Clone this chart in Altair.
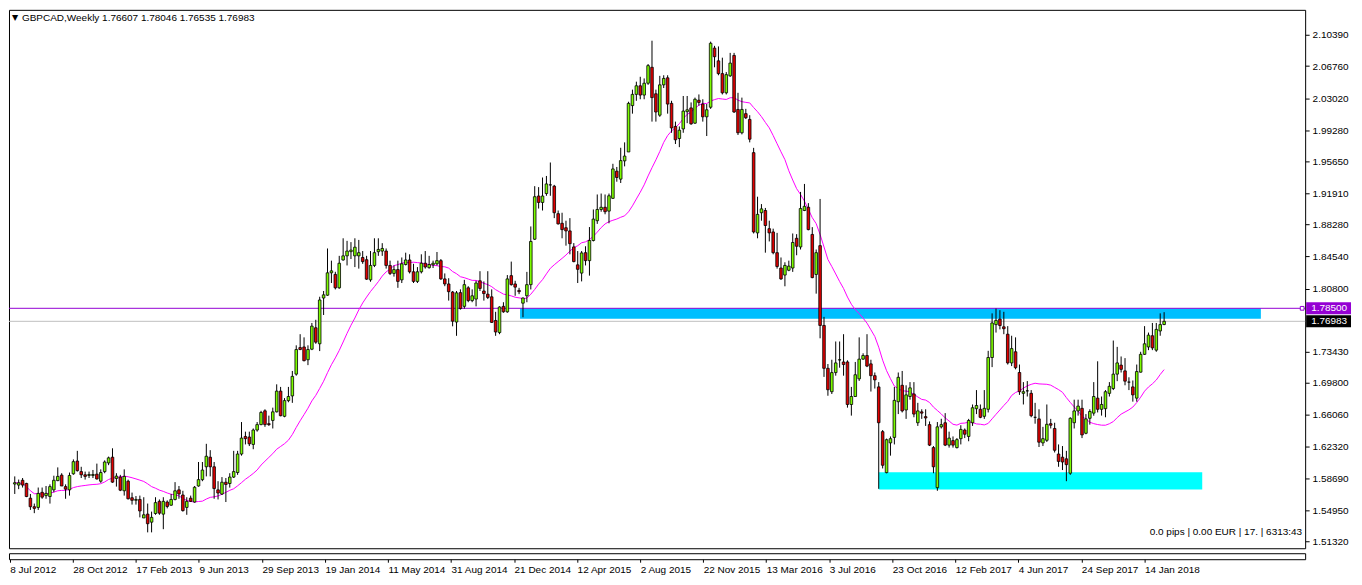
import altair as alt
import pandas as pd

# ---------------- data (GBPCAD weekly) ----------------
opens = [
    1.5800, 1.5788, 1.5844, 1.5807, 1.5635, 1.5535, 1.5527, 1.5703, 1.5665, 1.5654,
    1.5732, 1.5840, 1.5904, 1.5770, 1.5732, 1.5919, 1.6068, 1.5945, 1.5908, 1.5900,
    1.5900, 1.5915, 1.5833, 1.5945, 1.6046, 1.6113, 1.5865, 1.5881, 1.5721, 1.5833,
    1.5640, 1.5610, 1.5620, 1.5404, 1.5449, 1.5355, 1.5456, 1.5598, 1.5449, 1.5590,
    1.5553, 1.5620, 1.5732, 1.5672, 1.5527, 1.5635, 1.5590, 1.5777, 1.5851, 1.6001,
    1.6113, 1.6001, 1.5732, 1.5683, 1.5821, 1.5806, 1.5881, 1.5934, 1.6150, 1.6355,
    1.6348, 1.6262, 1.6430, 1.6493, 1.6654, 1.6504, 1.6542, 1.6642, 1.6884, 1.6590,
    1.6773, 1.6828, 1.7082, 1.7392, 1.7399, 1.7250, 1.7373, 1.7623, 1.7436, 1.7970,
    1.8003, 1.8264, 1.8246, 1.8089, 1.8414, 1.8462, 1.8511, 1.8462, 1.8462, 1.8443,
    1.8417, 1.8182, 1.8350, 1.8510, 1.8518, 1.8518, 1.8350, 1.8257, 1.8302, 1.8182,
    1.8361, 1.8414, 1.8276, 1.8164, 1.8276, 1.8376, 1.8324, 1.8358, 1.8369, 1.8406,
    1.8193, 1.8134, 1.8040, 1.7690, 1.8033, 1.7873, 1.8089, 1.7940, 1.7958, 1.8171,
    1.8052, 1.8015, 1.7984, 1.7708, 1.7567, 1.7873, 1.7809, 1.8231, 1.8134, 1.8059,
    1.7910, 1.7996, 1.8126, 1.8656, 1.9160, 1.9085, 1.9189, 1.9290, 1.9275, 1.8954,
    1.8842, 1.8790, 1.8753, 1.8566, 1.8357, 1.8261, 1.8499, 1.8406, 1.8641, 1.8872,
    1.9003, 1.9029, 1.8984, 1.9133, 1.9450, 1.9357, 1.9570, 1.9674, 2.0215, 2.0346,
    2.0446, 2.0338, 2.0476, 2.0662, 2.0353, 2.0103, 2.0457, 2.0539, 2.0241, 1.9972,
    1.9831, 1.9943, 2.0144, 2.0188, 2.0010, 2.0278, 2.0233, 2.0084, 2.0196, 2.0886,
    2.0737, 2.0588, 2.0364, 2.0562, 2.0800, 2.0170, 1.9898, 2.0121, 2.0054, 1.9666,
    1.8730, 1.8965, 1.8991, 1.8779, 1.8741, 1.8499, 1.8320, 1.8238, 1.8294, 1.8320,
    1.8667, 1.8566, 1.8991, 1.9029, 1.8712, 1.8245, 1.8581, 1.7650, 1.7150, 1.6877,
    1.7100, 1.7247, 1.7224, 1.7224, 1.6728, 1.6821, 1.7027, 1.7257, 1.7299, 1.7202,
    1.7064, 1.6933, 1.6411, 1.5933, 1.6280, 1.6344, 1.6760, 1.6952, 1.6664, 1.6821,
    1.6851, 1.6515, 1.6642, 1.6586, 1.6493, 1.6225, 1.5758, 1.6467, 1.6515, 1.6254,
    1.6307, 1.6225, 1.6329, 1.6430, 1.6355, 1.6515, 1.6679, 1.6672, 1.6590, 1.6672,
    1.7276, 1.7660, 1.7724, 1.7634, 1.7548, 1.7213, 1.7343, 1.7101, 1.6858, 1.6887,
    1.6858, 1.6578, 1.6560, 1.6280, 1.6310, 1.6504, 1.6448, 1.6150, 1.6113, 1.6094,
    1.5926, 1.6515, 1.6653, 1.6683, 1.6392, 1.6567, 1.6627, 1.6802, 1.6672, 1.6679,
    1.6858, 1.6914, 1.7082, 1.7187, 1.7120, 1.6989, 1.6933, 1.6802, 1.7105, 1.7313,
    1.7399, 1.7530, 1.7362, 1.7586, 1.76607,
]
highs = [
    1.5889, 1.5852, 1.5870, 1.5814, 1.5684, 1.5572, 1.5759, 1.5759, 1.5777, 1.5796,
    1.5897, 1.5994, 1.5926, 1.5796, 1.5934, 1.6087, 1.6187, 1.6001, 1.5945, 1.5945,
    1.5964, 1.6038, 1.5971, 1.6076, 1.6120, 1.6217, 1.5926, 1.5907, 1.5971, 1.5851,
    1.5700, 1.5660, 1.5665, 1.5646, 1.5572, 1.5478, 1.5646, 1.5620, 1.5646, 1.5609,
    1.5684, 1.5822, 1.5777, 1.5721, 1.5646, 1.5665, 1.5777, 1.6057, 1.6057, 1.6269,
    1.6195, 1.6057, 1.5833, 1.5881, 1.5870, 1.5926, 1.6187, 1.6187, 1.6523, 1.6411,
    1.6411, 1.6448, 1.6523, 1.6654, 1.6672, 1.6598, 1.6691, 1.6963, 1.6933, 1.6802,
    1.6933, 1.7119, 1.7418, 1.7548, 1.7511, 1.7418, 1.7679, 1.7716, 1.7985, 1.8052,
    1.8548, 1.8406, 1.8276, 1.8462, 1.8667, 1.8637, 1.8622, 1.8667, 1.8648, 1.8518,
    1.8462, 1.8518, 1.8667, 1.8667, 1.8610, 1.8548, 1.8406, 1.8350, 1.8406, 1.8443,
    1.8499, 1.8480, 1.8369, 1.8331, 1.8480, 1.8518, 1.8462, 1.8406, 1.8507, 1.8425,
    1.8257, 1.8201, 1.8052, 1.8052, 1.8071, 1.8182, 1.8108, 1.8071, 1.8171, 1.8283,
    1.8164, 1.8283, 1.8071, 1.7809, 1.7873, 1.7921, 1.8238, 1.8395, 1.8171, 1.8089,
    1.7977, 1.8275, 1.8805, 1.9275, 1.9264, 1.9376, 1.9394, 1.9551, 1.9290, 1.8991,
    1.8965, 1.8872, 1.8902, 1.8611, 1.8518, 1.8518, 1.8574, 1.8798, 1.9003, 1.9178,
    1.9189, 1.9178, 1.9189, 1.9536, 1.9499, 1.9723, 1.9786, 2.0260, 2.0401, 2.0494,
    2.0551, 2.0532, 2.0700, 2.0972, 2.0401, 2.0562, 2.0569, 2.0569, 2.0271, 2.0028,
    1.9972, 2.0327, 2.0327, 2.0252, 2.0308, 2.0345, 2.0289, 2.0233, 2.0961, 2.0912,
    2.0905, 2.0774, 2.0606, 2.0830, 2.0830, 2.0364, 2.0308, 2.0177, 2.0103, 1.9722,
    1.9152, 1.9066, 1.9021, 1.8872, 1.8779, 1.8730, 1.8443, 1.8387, 1.8406, 1.8723,
    1.8715, 1.9208, 1.9301, 1.9077, 1.8797, 1.8536, 1.9126, 1.7750, 1.7200, 1.7250,
    1.7463, 1.7463, 1.7548, 1.7243, 1.6933, 1.7224, 1.7511, 1.7325, 1.7548, 1.7250,
    1.7101, 1.6989, 1.6430, 1.6330, 1.6355, 1.6933, 1.7101, 1.7119, 1.6952, 1.6989,
    1.6989, 1.6747, 1.6672, 1.6672, 1.6530, 1.6243, 1.6523, 1.6561, 1.6627, 1.6411,
    1.6355, 1.6336, 1.6486, 1.6448, 1.6560, 1.6728, 1.6896, 1.6728, 1.6896, 1.7354,
    1.7791, 1.7847, 1.7828, 1.7809, 1.7642, 1.7530, 1.7511, 1.7194, 1.6989, 1.7001,
    1.6896, 1.6747, 1.6672, 1.6467, 1.6728, 1.6560, 1.6515, 1.6262, 1.6243, 1.6187,
    1.6579, 1.6784, 1.6784, 1.6784, 1.6616, 1.6672, 1.6989, 1.7232, 1.6821, 1.6896,
    1.6989, 1.7474, 1.7400, 1.7288, 1.7269, 1.7045, 1.7008, 1.7194, 1.7343, 1.7642,
    1.7567, 1.7679, 1.7679, 1.7791, 1.78046,
]
lows = [
    1.5684, 1.5740, 1.5759, 1.5647, 1.5498, 1.5460, 1.5498, 1.5628, 1.5628, 1.5572,
    1.5703, 1.5833, 1.5777, 1.5628, 1.5665, 1.5908, 1.5945, 1.5870, 1.5852, 1.5870,
    1.5870, 1.5852, 1.5814, 1.5926, 1.6020, 1.5814, 1.5770, 1.5717, 1.5665, 1.5620,
    1.5560, 1.5560, 1.5411, 1.5404, 1.5236, 1.5236, 1.5441, 1.5441, 1.5273, 1.5516,
    1.5546, 1.5609, 1.5628, 1.5478, 1.5441, 1.5590, 1.5583, 1.5769, 1.5833, 1.5889,
    1.5889, 1.5628, 1.5620, 1.5672, 1.5590, 1.5758, 1.5870, 1.5907, 1.6131, 1.6262,
    1.6243, 1.6206, 1.6411, 1.6486, 1.6467, 1.6478, 1.6448, 1.6635, 1.6590, 1.6579,
    1.6754, 1.6747, 1.7064, 1.7362, 1.7231, 1.7187, 1.7362, 1.7436, 1.7351, 1.7772,
    1.7996, 1.8145, 1.8070, 1.8078, 1.8406, 1.8350, 1.8425, 1.8331, 1.8313, 1.8369,
    1.8182, 1.8160, 1.8331, 1.8462, 1.8462, 1.8313, 1.8238, 1.8220, 1.8089, 1.8145,
    1.8350, 1.8257, 1.8145, 1.8145, 1.8257, 1.8313, 1.8313, 1.8320, 1.8350, 1.8182,
    1.8108, 1.7940, 1.7640, 1.7529, 1.7835, 1.7847, 1.7921, 1.7921, 1.7873, 1.8052,
    1.7940, 1.7958, 1.7679, 1.7529, 1.7548, 1.7798, 1.7798, 1.8115, 1.7996, 1.8015,
    1.7746, 1.7921, 1.8070, 1.8648, 1.9014, 1.8991, 1.9163, 1.9163, 1.8902, 1.8827,
    1.8667, 1.8581, 1.8480, 1.8387, 1.8145, 1.8164, 1.8350, 1.8231, 1.8630, 1.8835,
    1.8977, 1.8947, 1.8842, 1.9126, 1.9327, 1.9312, 1.9506, 1.9674, 2.0121, 2.0271,
    2.0289, 2.0289, 2.0457, 2.0028, 2.0028, 2.0084, 2.0420, 2.0121, 1.9898, 1.9767,
    1.9730, 1.9898, 2.0010, 1.9991, 2.0002, 2.0215, 2.0028, 1.9860, 2.0177, 2.0662,
    2.0569, 2.0345, 2.0345, 2.0550, 2.0130, 1.9872, 1.9879, 2.0058, 1.9786, 1.8723,
    1.8667, 1.8872, 1.8499, 1.8630, 1.8480, 1.8313, 1.8182, 1.8107, 1.8283, 1.8275,
    1.8469, 1.8536, 1.8984, 1.8760, 1.8201, 1.8021, 1.7500, 1.7050, 1.6830, 1.6850,
    1.7064, 1.7157, 1.7064, 1.6691, 1.6598, 1.6821, 1.7003, 1.7250, 1.7164, 1.6879,
    1.6914, 1.5744, 1.5982, 1.5925, 1.6131, 1.6262, 1.6616, 1.6635, 1.6560, 1.6784,
    1.6579, 1.6478, 1.6560, 1.6478, 1.6243, 1.5926, 1.5721, 1.6448, 1.6243, 1.6225,
    1.6225, 1.6215, 1.6262, 1.6336, 1.6299, 1.6478, 1.6616, 1.6568, 1.6560, 1.6635,
    1.7164, 1.7567, 1.7604, 1.7548, 1.7194, 1.7176, 1.7138, 1.6840, 1.6728, 1.6821,
    1.6579, 1.6504, 1.6232, 1.6243, 1.6291, 1.6448, 1.6168, 1.6001, 1.5963, 1.5833,
    1.5907, 1.6448, 1.6598, 1.6336, 1.6381, 1.6493, 1.6597, 1.6635, 1.6598, 1.6579,
    1.6821, 1.6896, 1.7000, 1.7101, 1.6952, 1.6896, 1.6761, 1.6761, 1.7101, 1.7306,
    1.7362, 1.7362, 1.7343, 1.7530, 1.76535,
]
closes = [
    1.5815, 1.5814, 1.5788, 1.5654, 1.5535, 1.5516, 1.5691, 1.5647, 1.5691, 1.5770,
    1.5844, 1.5889, 1.5777, 1.5740, 1.5900, 1.6061, 1.5956, 1.5908, 1.5889, 1.5911,
    1.5911, 1.5859, 1.5934, 1.6057, 1.6105, 1.5822, 1.5892, 1.5728, 1.5889, 1.5628,
    1.5610, 1.5620, 1.5486, 1.5441, 1.5337, 1.5411, 1.5583, 1.5460, 1.5598, 1.5538,
    1.5620, 1.5721, 1.5684, 1.5490, 1.5598, 1.5598, 1.5762, 1.5851, 1.5963, 1.6124,
    1.6001, 1.5747, 1.5695, 1.5821, 1.5795, 1.5881, 1.5945, 1.6150, 1.6336, 1.6329,
    1.6269, 1.6430, 1.6493, 1.6635, 1.6493, 1.6493, 1.6642, 1.6884, 1.6597, 1.6773,
    1.6821, 1.7056, 1.7369, 1.7369, 1.7239, 1.7369, 1.7642, 1.7455, 1.7947, 1.8007,
    1.8264, 1.8287, 1.8089, 1.8376, 1.8462, 1.8518, 1.8529, 1.8563, 1.8499, 1.8395,
    1.8190, 1.8350, 1.8499, 1.8537, 1.8548, 1.8350, 1.8257, 1.8302, 1.8164, 1.8369,
    1.8414, 1.8276, 1.8164, 1.8276, 1.8376, 1.8332, 1.8361, 1.8376, 1.8406, 1.8193,
    1.8134, 1.8044, 1.7700, 1.8030, 1.7847, 1.8126, 1.7940, 1.7996, 1.8145, 1.8082,
    1.8022, 1.7977, 1.7686, 1.7574, 1.7865, 1.7809, 1.8193, 1.8126, 1.8097, 1.8044,
    1.7970, 1.8126, 1.8630, 1.9152, 1.9085, 1.9160, 1.9301, 1.9290, 1.8965, 1.8835,
    1.8768, 1.8753, 1.8604, 1.8395, 1.8305, 1.8496, 1.8406, 1.8641, 1.8891, 1.9003,
    1.9029, 1.8977, 1.9163, 1.9476, 1.9376, 1.9573, 1.9626, 2.0241, 2.0346, 2.0446,
    2.0338, 2.0476, 2.0681, 2.0308, 2.0140, 2.0457, 2.0532, 2.0233, 1.9954, 1.9816,
    1.9928, 2.0151, 2.0166, 2.0002, 2.0289, 2.0252, 2.0084, 2.0166, 2.0942, 2.0785,
    2.0588, 2.0364, 2.0576, 2.0711, 2.0140, 1.9898, 2.0170, 2.0073, 1.9823, 1.8741,
    1.8946, 1.9010, 1.8816, 1.8730, 1.8499, 1.8338, 1.8193, 1.8350, 1.8342, 1.8618,
    1.8574, 1.9014, 1.9040, 1.8768, 1.8208, 1.8499, 1.7650, 1.7150, 1.6900, 1.7100,
    1.7213, 1.7250, 1.7194, 1.6728, 1.6821, 1.7075, 1.7257, 1.7299, 1.7176, 1.7064,
    1.7015, 1.6515, 1.6019, 1.6317, 1.6329, 1.6776, 1.7045, 1.6653, 1.6840, 1.6922,
    1.6616, 1.6653, 1.6627, 1.6571, 1.6254, 1.6001, 1.6467, 1.6493, 1.6254, 1.6336,
    1.6254, 1.6318, 1.6437, 1.6381, 1.6541, 1.6690, 1.6716, 1.6578, 1.6683, 1.7276,
    1.7679, 1.7709, 1.7649, 1.7612, 1.7213, 1.7380, 1.7157, 1.6877, 1.6877, 1.6887,
    1.6597, 1.6578, 1.6288, 1.6329, 1.6497, 1.6486, 1.6194, 1.6064, 1.6057, 1.6026,
    1.6567, 1.6653, 1.6709, 1.6373, 1.6560, 1.6646, 1.6821, 1.6672, 1.6728, 1.6877,
    1.6940, 1.7082, 1.7213, 1.7138, 1.7000, 1.6989, 1.6840, 1.7112, 1.7313, 1.7436,
    1.7537, 1.7388, 1.7604, 1.7660, 1.76983,
]
bar_index = list(range(len(closes)))

date_labels = [
    "8 Jul 2012", "28 Oct 2012", "17 Feb 2013", "9 Jun 2013", "29 Sep 2013",
    "19 Jan 2014", "11 May 2014", "31 Aug 2014", "21 Dec 2014", "12 Apr 2015",
    "2 Aug 2015", "22 Nov 2015", "13 Mar 2016", "3 Jul 2016", "23 Oct 2016",
    "12 Feb 2017", "4 Jun 2017", "24 Sep 2017", "14 Jan 2018",
]
date_label_bars = [16 * k for k in range(len(date_labels))]

price_ticks = [2.10390, 2.06760, 2.03020, 1.99280, 1.95650, 1.91910, 1.88280,
               1.84540, 1.80800, 1.73430, 1.69800, 1.66060, 1.62320, 1.58690,
               1.54950, 1.51320]

zone_names = ["resistance", "support"]
zone_start = [129.25, 221.0]
zone_end = [318.75, 303.75]
zone_top = [1.7850, 1.5937]
zone_bottom = [1.7727, 1.5736]

level_names = ["line", "bid"]
level_prices = [1.78500, 1.76983]
level_texts = ["1.78500", "1.76983"]

header_text = "GBPCAD,Weekly  1.76607 1.78046 1.76535 1.76983"
footer_text = "0.0 pips | 0.00 EUR | 17. | 6313:43"

# ---------------- chart ----------------
W, H = 1300, 540
FONT = "Liberation Sans"
VIOLET = "#9400D3"

df = pd.DataFrame({"i": bar_index, "o": opens, "h": highs, "l": lows, "c": closes})
zones = pd.DataFrame({"name": zone_names, "x0": zone_start, "x1": zone_end,
                      "top": zone_top, "bottom": zone_bottom})
levels = pd.DataFrame({"name": level_names, "price": level_prices, "text": level_texts})

xscale = alt.Scale(domain=[-0.2, 328.8], nice=False, zero=False)
yscale = alt.Scale(domain=[1.5109, 2.1274], nice=False, zero=False)
yaxis = alt.Axis(orient="right", values=price_ticks, format=".5f", tickSize=4,
                 tickColor="black", domain=False, grid=False, title=None,
                 labelFont=FONT, labelFontSize=10, labelColor="black", labelPadding=3)


def X(field):
    return alt.X(field, scale=xscale, axis=None)


def Y(field):
    return alt.Y(field, scale=yscale, axis=yaxis)


zone_layer = alt.Chart(zones).mark_rect().encode(
    x=X("x0:Q"), x2="x1:Q", y=Y("top:Q"), y2="bottom:Q",
    fill=alt.condition("datum.name == 'resistance'", alt.value("#00BFFF"), alt.value("#00FFFF")),
)

level_lines = alt.Chart(levels).mark_rule(strokeWidth=1).encode(
    y=Y("price:Q"),
    stroke=alt.condition("datum.name == 'line'", alt.value(VIOLET), alt.value("#C0C0C0")),
)

ma_layer = alt.Chart(df).transform_window(
    ma="mean(c)", frame=[-19, 0], sort=[alt.SortField("i")]
).mark_line(color="#FF00FF", strokeWidth=1).encode(x=X("i:Q"), y=Y("ma:Q"))

wicks = alt.Chart(df).mark_rule(color="black", strokeWidth=1).encode(
    x=X("i:Q"), y=Y("l:Q"), y2="h:Q")

bodies = alt.Chart(df).mark_bar(size=2.6, stroke="black", strokeWidth=0.8).encode(
    x=X("i:Q"), y=Y("o:Q"), y2="c:Q",
    fill=alt.condition("datum.c >= datum.o", alt.value("#7CFC00"), alt.value("#E00000")),
)

line_end = alt.Chart(levels).transform_filter("datum.name == 'line'").mark_point(
    shape="square", size=14, filled=True, fill="white", stroke=VIOLET, strokeWidth=1, opacity=1
).encode(x=alt.value(W - 3), y=Y("price:Q"))

boxes = alt.Chart(levels).mark_bar(orient="horizontal", size=12).encode(
    x=alt.value(W + 1), x2=alt.value(W + 46), y=Y("price:Q"),
    fill=alt.condition("datum.name == 'line'", alt.value(VIOLET), alt.value("#000000")),
)
box_text = alt.Chart(levels).mark_text(
    align="left", baseline="middle", color="white", font=FONT, fontSize=10
).encode(x=alt.value(W + 6), y=Y("price:Q"), text="text:N")

header_tri = alt.Chart(pd.DataFrame({"t": ["▼"]})).mark_text(
    align="left", baseline="middle", fontSize=8, font="DejaVu Sans", color="black"
).encode(x=alt.value(3), y=alt.value(8), text="t:N")
header = alt.Chart(pd.DataFrame({"t": [header_text]})).mark_text(
    align="left", baseline="middle", fontSize=10, font=FONT, color="black"
).encode(x=alt.value(13), y=alt.value(8), text="t:N")
footer = alt.Chart(pd.DataFrame({"t": [footer_text]})).mark_text(
    align="right", baseline="middle", fontSize=10, font=FONT, color="black"
).encode(x=alt.value(W - 3), y=alt.value(H - 16), text="t:N")

main = alt.layer(
    zone_layer, level_lines, ma_layer, wicks, bodies, line_end, boxes, box_text,
    header_tri, header, footer,
).properties(width=W, height=H)

label_expr = "[" + ",".join("'" + s + "'" for s in date_labels) + "][round(datum.value / 16)]"
sub = alt.Chart(df).mark_tick(opacity=0).encode(
    x=alt.X("i:Q", scale=xscale, axis=alt.Axis(
        values=date_label_bars, labelExpr=label_expr, labelAlign="left", tickSize=3,
        tickColor="black", labelPadding=2, domain=False, grid=False, title=None,
        labelFont=FONT, labelFontSize=10, labelColor="black", labelFlush=False,
        labelOverlap=False))
).properties(width=W, height=6)

chart = alt.vconcat(main, sub, spacing=3).properties(
    padding={"left": 0, "right": 2, "top": 0, "bottom": 0}, background="white"
).configure_view(stroke="black", strokeWidth=1)

chart.save("out.html", embed_options={"renderer": "svg", "actions": False})
